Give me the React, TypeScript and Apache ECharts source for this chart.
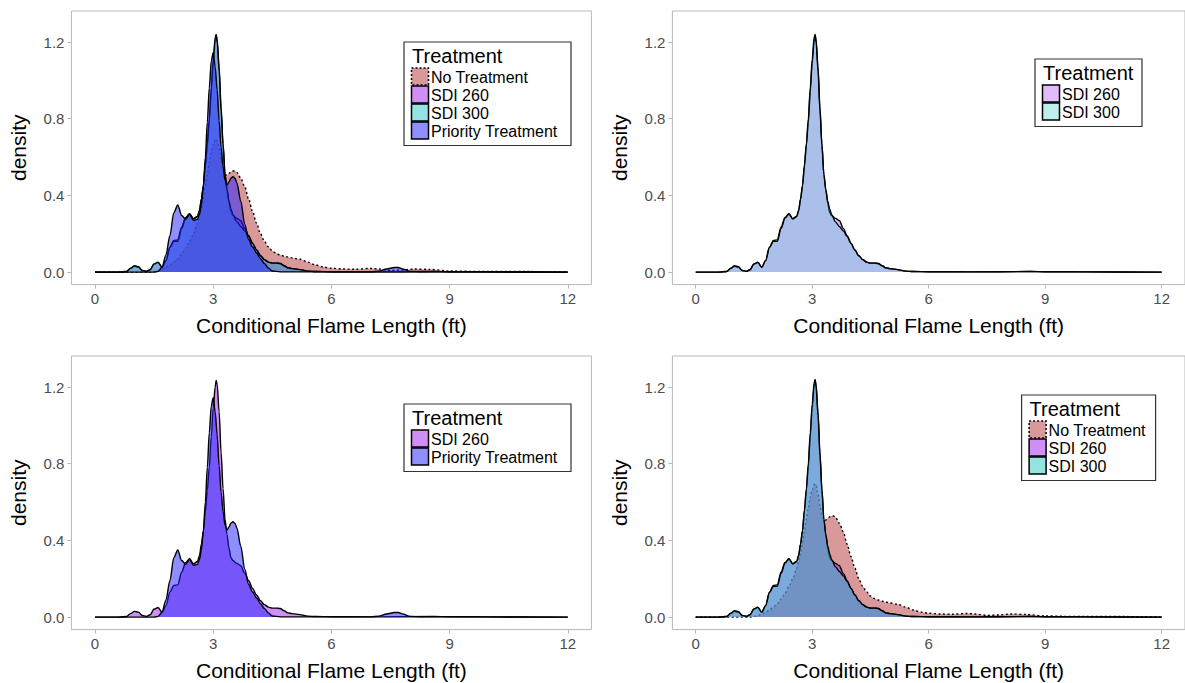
import React, { useEffect, useRef } from 'react';
import * as echarts from 'echarts';

const X_TICKS = [0, 3, 6, 9, 12];
const Y_TICKS = [0, 0.4, 0.8, 1.2];
const X_TITLE = 'Conditional Flame Length (ft)';
const Y_TITLE = 'density';
const LEGEND_TITLE = 'Treatment';

// density curves: [flame length (ft), density]
const NO_TREATMENT = [
  [0, 0], [1.4, 0], [1.5, 0.003], [1.6, 0.008], [1.7, 0.015], [1.8, 0.025], [1.9, 0.038], [2.0, 0.052],
  [2.1, 0.07], [2.2, 0.095], [2.3, 0.125], [2.4, 0.16], [2.5, 0.2], [2.6, 0.255], [2.65, 0.29], [2.7, 0.33],
  [2.75, 0.39], [2.8, 0.45], [2.85, 0.51], [2.9, 0.57], [2.95, 0.625], [3.0, 0.665], [3.05, 0.69], [3.075, 0.695],
  [3.1, 0.685], [3.15, 0.64], [3.2, 0.58], [3.25, 0.53], [3.3, 0.508], [3.35, 0.506], [3.4, 0.515], [3.45, 0.523],
  [3.5, 0.527], [3.55, 0.527], [3.6, 0.52], [3.7, 0.49], [3.8, 0.445], [3.9, 0.38], [4.0, 0.315], [4.1, 0.255],
  [4.2, 0.2], [4.3, 0.16], [4.4, 0.132], [4.5, 0.11], [4.6, 0.097], [4.7, 0.089], [4.8, 0.083], [4.9, 0.078],
  [5.0, 0.074], [5.2, 0.067], [5.4, 0.052], [5.6, 0.037], [5.8, 0.026], [6.0, 0.02], [6.3, 0.016], [6.6, 0.015],
  [7.0, 0.019], [7.2, 0.016], [7.5, 0.009], [7.8, 0.011], [8.1, 0.016], [8.5, 0.014], [9.0, 0.006], [9.5, 0.004],
  [10.0, 0.003], [11.0, 0.003], [11.5, 0.001], [12, 0],
];

const SDI_260 = [
  [0, 0], [0.6, 0], [0.8, 0.003], [0.9, 0.018], [1.0, 0.03], [1.1, 0.026], [1.2, 0.008], [1.3, 0.004],
  [1.4, 0.012], [1.5, 0.042], [1.6, 0.05], [1.7, 0.025], [1.8, 0.06], [1.9, 0.13], [2.0, 0.165], [2.1, 0.168],
  [2.2, 0.235], [2.3, 0.285], [2.4, 0.305], [2.5, 0.278], [2.6, 0.29], [2.65, 0.32], [2.7, 0.38], [2.75, 0.45],
  [2.8, 0.55], [2.85, 0.66], [2.9, 0.78], [2.95, 0.94], [3.0, 1.09], [3.05, 1.2], [3.075, 1.235], [3.1, 1.215],
  [3.15, 1.07], [3.2, 0.86], [3.25, 0.67], [3.3, 0.51], [3.35, 0.43], [3.4, 0.36], [3.45, 0.31], [3.5, 0.295],
  [3.6, 0.28], [3.7, 0.268], [3.8, 0.228], [3.9, 0.19], [4.0, 0.15], [4.1, 0.115], [4.2, 0.085], [4.3, 0.065],
  [4.4, 0.052], [4.5, 0.047], [4.6, 0.047], [4.7, 0.045], [4.8, 0.033], [4.9, 0.022], [5.0, 0.018], [5.2, 0.013],
  [5.4, 0.005], [5.6, 0.003], [6.0, 0.002], [7.0, 0.001], [8.6, 0.003], [9.0, 0.002], [10, 0.001], [12, 0],
];

const SDI_300 = [
  [0, 0], [0.6, 0], [0.8, 0.003], [0.9, 0.02], [1.0, 0.033], [1.1, 0.028], [1.2, 0.008], [1.3, 0.004],
  [1.4, 0.012], [1.5, 0.043], [1.6, 0.052], [1.7, 0.025], [1.8, 0.06], [1.9, 0.128], [2.0, 0.16], [2.1, 0.16],
  [2.2, 0.228], [2.3, 0.282], [2.4, 0.303], [2.5, 0.278], [2.6, 0.29], [2.65, 0.32], [2.7, 0.38], [2.75, 0.45],
  [2.8, 0.56], [2.85, 0.67], [2.9, 0.8], [2.95, 0.96], [3.0, 1.11], [3.05, 1.225], [3.075, 1.24], [3.1, 1.2],
  [3.15, 1.05], [3.2, 0.84], [3.25, 0.66], [3.3, 0.51], [3.35, 0.43], [3.4, 0.37], [3.45, 0.33], [3.5, 0.3],
  [3.6, 0.262], [3.7, 0.238], [3.8, 0.215], [3.9, 0.185], [4.0, 0.15], [4.1, 0.115], [4.2, 0.085], [4.3, 0.065],
  [4.4, 0.052], [4.5, 0.047], [4.6, 0.047], [4.7, 0.045], [4.8, 0.033], [4.9, 0.022], [5.0, 0.018], [5.2, 0.013],
  [5.4, 0.005], [5.6, 0.003], [6.0, 0.002], [7.0, 0.001], [8.6, 0.003], [9.0, 0.002], [10, 0.001], [12, 0],
];

const PRIORITY = [
  [0, 0], [1.5, 0], [1.6, 0.004], [1.7, 0.025], [1.8, 0.09], [1.9, 0.19], [2.0, 0.31], [2.1, 0.35],
  [2.2, 0.295], [2.3, 0.275], [2.4, 0.3], [2.5, 0.27], [2.6, 0.275], [2.65, 0.3], [2.7, 0.35], [2.75, 0.45],
  [2.8, 0.6], [2.85, 0.78], [2.9, 0.96], [2.95, 1.1], [3.0, 1.145], [3.05, 1.07], [3.1, 0.95], [3.15, 0.79],
  [3.2, 0.65], [3.25, 0.55], [3.3, 0.48], [3.35, 0.455], [3.4, 0.47], [3.45, 0.49], [3.5, 0.497], [3.55, 0.49],
  [3.6, 0.465], [3.7, 0.37], [3.8, 0.25], [3.9, 0.17], [4.0, 0.13], [4.1, 0.1], [4.2, 0.07], [4.3, 0.045],
  [4.4, 0.022], [4.5, 0.006], [4.7, 0.001], [7.0, 0.001], [7.2, 0.005], [7.4, 0.016], [7.6, 0.024], [7.7, 0.024],
  [7.8, 0.017], [8.0, 0.004], [8.3, 0.001], [9.0, 0.002], [9.5, 0.001], [12, 0],
];

const TREATMENTS: Record<string, any> = {
  NT: { name: 'No Treatment', data: NO_TREATMENT, rgb: [179, 51, 55], dotted: true },
  S260: { name: 'SDI 260', data: SDI_260, rgb: [160, 32, 240], dotted: false },
  S300: { name: 'SDI 300', data: SDI_300, rgb: [40, 200, 196], dotted: false },
  PT: { name: 'Priority Treatment', data: PRIORITY, rgb: [30, 30, 255], dotted: false },
};

const PANELS = [
  { left: 71.4, top: 11, width: 520, keys: ['NT', 'S260', 'S300', 'PT'], alpha: 0.5, lg: { x: 404, y: 42, w: 167 } },
  { left: 672.4, top: 11, width: 519.4, keys: ['S260', 'S300'], alpha: 0.3, lg: { x: 1035, y: 59, w: 107 } },
  { left: 71.4, top: 356, width: 520, keys: ['S260', 'PT'], alpha: 0.5, lg: { x: 404, y: 404, w: 167 } },
  { left: 672.4, top: 356, width: 519.4, keys: ['NT', 'S260', 'S300'], alpha: 0.5, lg: { x: 1021.6, y: 395, w: 134 } },
];

const Y_MIN = -0.065;
const Y_MAX = 1.362;
const PX_PER_UNIT = 191.7;
const FONT = "'Liberation Sans', Arial, sans-serif";

function rgba(rgb: number[], a: number) {
  return `rgba(${rgb[0]},${rgb[1]},${rgb[2]},${a})`;
}

function buildOption() {
  const height = (Y_MAX - Y_MIN) * PX_PER_UNIT;
  const grid: any[] = [];
  const xAxis: any[] = [];
  const yAxis: any[] = [];
  const series: any[] = [];
  const graphic: any[] = [];

  PANELS.forEach((p, i) => {
    grid.push({
      left: p.left, top: p.top, width: p.width, height,
      show: true, borderColor: '#b8b8b8', borderWidth: 1, backgroundColor: 'transparent',
    });
    xAxis.push({
      gridIndex: i, type: 'value', min: -0.6, max: 12.6,
      axisLine: { show: false, onZero: false },
      splitLine: { show: false },
      axisTick: { show: true, customValues: X_TICKS, length: 4, lineStyle: { color: '#b8b8b8', width: 1 } },
      axisLabel: { customValues: X_TICKS, color: '#4d4d4d', fontSize: 15, margin: 6, fontFamily: FONT },
      name: X_TITLE, nameLocation: 'middle', nameGap: 30,
      nameTextStyle: { color: '#000', fontSize: 21, fontFamily: FONT },
    });
    yAxis.push({
      gridIndex: i, type: 'value', min: Y_MIN, max: Y_MAX,
      axisLine: { show: false, onZero: false },
      splitLine: { show: false },
      axisTick: { show: true, customValues: Y_TICKS, length: 4, lineStyle: { color: '#b8b8b8', width: 1 } },
      axisLabel: {
        customValues: Y_TICKS, color: '#4d4d4d', fontSize: 15, margin: 7, fontFamily: FONT,
        formatter: (v: number) => v.toFixed(1),
      },
      name: Y_TITLE, nameLocation: 'middle', nameGap: 42,
      nameTextStyle: { color: '#000', fontSize: 21, fontFamily: FONT },
    });

    p.keys.forEach((k, j) => {
      const t = TREATMENTS[k];
      series.push({
        type: 'line', name: t.name, xAxisIndex: i, yAxisIndex: i,
        data: t.data, smooth: 0.3, smoothMonotone: 'x', symbol: 'none', showSymbol: false,
        silent: true, z: 2 + j,
        lineStyle: { color: '#000', width: 1.4, type: t.dotted ? [2, 2.5] : 'solid' },
        areaStyle: { color: rgba(t.rgb, p.alpha), opacity: 1 },
      });
    });

    // legend box
    const lg = p.lg;
    const n = p.keys.length;
    const h = 34.5 + (n - 1) * 18 + 15;
    const children: any[] = [
      { type: 'rect', shape: { x: lg.x, y: lg.y, width: lg.w, height: h }, style: { fill: '#fff', stroke: '#333', lineWidth: 1.2 } },
      { type: 'text', x: lg.x + 8, y: lg.y + 14, style: { text: LEGEND_TITLE, fontSize: 20, fontFamily: FONT, fill: '#000', verticalAlign: 'middle', align: 'left' } },
    ];
    p.keys.forEach((k, j) => {
      const t = TREATMENTS[k];
      const cy = lg.y + 34.5 + j * 18;
      children.push({
        type: 'rect', shape: { x: lg.x + 7.5, y: cy - 8.5, width: 17, height: 17 },
        style: { fill: rgba(t.rgb, p.alpha), stroke: '#000', lineWidth: 1.5, lineDash: t.dotted ? [2, 2] : null },
      });
      children.push({
        type: 'text', x: lg.x + 27, y: cy + 0.5,
        style: { text: t.name, fontSize: 16, fontFamily: FONT, fill: '#000', verticalAlign: 'middle', align: 'left' },
      });
    });
    graphic.push({ type: 'group', z: 100, silent: true, children });
  });

  return {
    animation: false,
    backgroundColor: '#fff',
    textStyle: { fontFamily: FONT },
    grid, xAxis, yAxis, series, graphic,
  };
}

export default function App() {
  const ref = useRef<HTMLDivElement>(null);
  useEffect(() => {
    if (!ref.current) return;
    const chart = echarts.init(ref.current, undefined, { renderer: 'svg' });
    chart.setOption(buildOption() as any);
    return () => chart.dispose();
  }, []);
  return (
    <div
      ref={ref}
      style={{ position: 'absolute', left: 0, top: 0, width: 1185, height: 683, background: '#fff' }}
    />
  );
}
